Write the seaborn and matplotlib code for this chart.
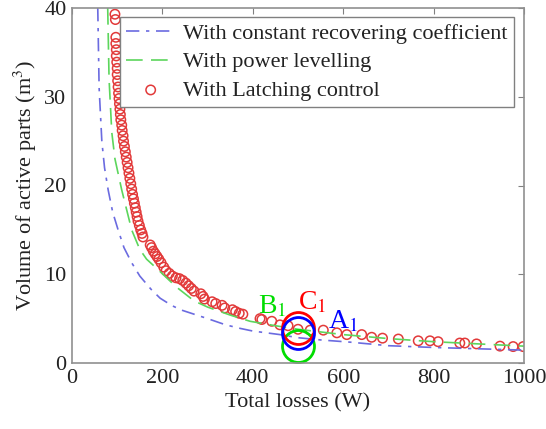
import numpy as np
import matplotlib
matplotlib.use("Agg")
import matplotlib.pyplot as plt
import seaborn as sns

sns.set_style("white")
plt.rcParams['font.family'] = ['Liberation Serif', 'DejaVu Serif']
plt.rcParams['mathtext.fontset'] = 'stix'

# curves (total losses W, volume m^3)
const_x = [57, 60, 66, 72, 80, 90, 102, 115, 132, 150, 175, 195, 220, 240, 270,
           300, 340, 372, 400, 460, 500, 550, 615, 700, 800, 900, 1000]
const_y = [40, 31, 25, 22, 19.5, 17, 15, 13, 11.3, 9.8, 8.3, 7.3, 6.5, 6.0, 5.5,
           5.0, 4.3, 3.9, 3.6, 3.2, 2.85, 2.6, 2.35, 1.95, 1.75, 1.6, 1.45]

level_x = [79, 82, 88, 95, 110, 132, 150, 165, 195, 230, 270, 300, 350, 394,
           450, 500, 600, 700, 800, 900, 1000]
level_y = [40, 32, 26, 23, 19.5, 15, 12.8, 11.7, 10.3, 8.6, 7.0, 6.3, 5.4, 4.7,
           4.2, 3.8, 3.2, 2.75, 2.4, 2.15, 1.9]

latch_x = [95, 96, 97, 97, 98, 98, 99, 100, 100, 101, 102, 103, 104, 105, 106,
           107, 108, 110, 111, 113, 114, 116, 118, 120, 122, 124, 126, 128, 130,
           132, 134, 136, 138, 140, 142, 144, 146, 149, 152, 155, 157,
           173, 176, 180, 184, 188, 192, 197, 203, 208, 215, 222, 230, 238, 245,
           252, 258, 264, 270, 285, 290, 293, 310, 318, 332, 338, 355, 362, 370,
           378, 416, 420, 442, 460, 478, 500, 527, 556, 586, 608, 641, 663, 687,
           722, 766, 792, 810, 858, 869, 895, 947, 976, 998]
latch_y = [39.3, 38.7, 36.7, 36.0, 35.3, 34.6, 33.9, 33.2, 32.5, 31.8, 31.1, 30.4,
           29.8, 29.2, 28.6, 28.0, 27.4, 26.8, 26.2, 25.6, 25.0, 24.4, 23.8, 23.2,
           22.6, 22.0, 21.4, 20.8, 20.2, 19.6, 19.0, 18.5, 18.0, 17.5, 17.0, 16.5,
           16.0, 15.5, 15.0, 14.6, 14.2,
           13.3, 13.0, 12.6, 12.3, 12.0, 11.7, 11.3, 10.8, 10.4, 10.1, 9.8, 9.6,
           9.5, 9.3, 9.0, 8.7, 8.4, 8.1, 7.8, 7.5, 7.2, 6.9, 6.7, 6.5, 6.2, 6.0,
           5.8, 5.6, 5.5, 5.0, 4.9, 4.7, 4.3, 4.2, 3.8, 3.7, 3.7, 3.4, 3.2, 3.2,
           2.9, 2.8, 2.7, 2.5, 2.5, 2.4, 2.25, 2.25, 2.15, 1.9, 1.85, 1.85]

# highlighted operating points
pt_names = ['B$_1$', 'C$_1$', 'A$_1$']
pt_colors = ['#00dd00', '#ff0000', '#0000ff']
pt_x = [501, 501, 501]
pt_y = [1.9, 4.0, 3.35]
lab_x = [411, 500, 566]
lab_y = [5.6, 6.0, 3.95]

fig = plt.figure(figsize=(5.46, 4.29), dpi=100)
ax = fig.add_axes([72 / 546, 1 - 363 / 429, 452 / 546, 355 / 429])

sns.lineplot(x=const_x, y=const_y, ax=ax, color='#6b6be0', lw=1.2,
             linestyle=(0, (8, 4, 2, 4)), label='With constant recovering coefficient')
sns.lineplot(x=level_x, y=level_y, ax=ax, color='#5cd65c', lw=1.2,
             linestyle=(0, (10, 5)), label='With power levelling')
sns.scatterplot(x=latch_x, y=latch_y, ax=ax, marker='o', s=46, facecolor='none',
                edgecolor='#e23a3a', linewidth=1.1, label='With Latching control')

for x, y, c in zip(pt_x, pt_y, pt_colors):
    ax.plot([x], [y], marker='o', ms=23, mfc='none', mec=c, mew=2, ls='none')
for t, x, y, c in zip(pt_names, lab_x, lab_y, pt_colors):
    ax.text(x, y, t, color=c, fontsize=20, ha='left', va='baseline')

ax.set_xlim(0, 1000)
ax.set_ylim(0, 40)
ax.set_xticks([0, 200, 400, 600, 800, 1000])
ax.set_yticks([0, 10, 20, 30, 40])
ax.tick_params(direction='in', length=4, width=0.8, color='#808080',
               labelsize=16, labelcolor='#222222', top=True, right=True, pad=4)
for s in ax.spines.values():
    s.set_color('#909090')
    s.set_linewidth(1.2)
ax.set_xlabel('Total losses (W)', fontsize=16, color='#222222', labelpad=4)
ax.set_ylabel('Volume of active parts (m$^3$)', fontsize=16, color='#222222', labelpad=4)

leg = ax.legend(loc='upper right', bbox_to_anchor=(0.978, 0.975), borderaxespad=0,
                fontsize=16, frameon=True, fancybox=False, framealpha=1,
                edgecolor='#808080', handlelength=2.2, labelspacing=0.35,
                borderpad=0.3, handletextpad=0.35)
leg.get_frame().set_linewidth(1.0)
for t in leg.get_texts():
    t.set_color('#222222')

fig.savefig('out.png', dpi=100)
